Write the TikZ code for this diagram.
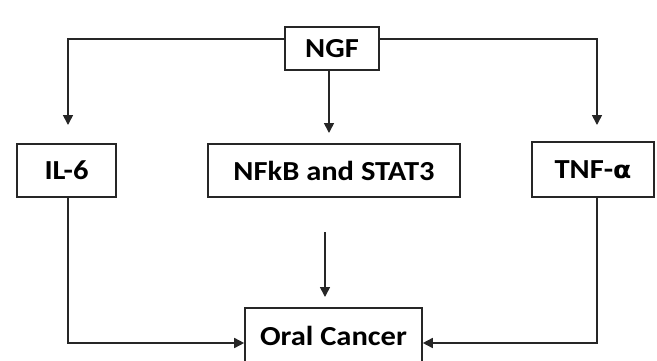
\documentclass[tikz,border=0pt]{standalone}
\usepackage{fontspec}
\setmainfont{Carlito}
\newfontfamily\greekfont{DejaVu Sans}
\usetikzlibrary{arrows.meta}
\newcommand\boxlbl[1]{\scalebox{1.11}[1]{#1}}
\begin{document}
\begin{tikzpicture}[x=1pt,y=-1pt,
  box/.style={draw=black!85,line width=1.6pt,inner sep=0pt,font=\bfseries\fontsize{27.5}{30}\selectfont,text=black},
  link/.style={draw=black!85,line width=1.6pt,-{Triangle[width=10pt,length=10pt]}}]
\useasboundingbox (0,0) rectangle (657,360);
\node[box,minimum width=94pt,minimum height=43pt] (ngf) at (332,48.5) {\boxlbl{NGF}};
\node[box,minimum width=99pt,minimum height=53pt] (il6) at (66.5,170.5) {\boxlbl{IL-6}};
\node[box,minimum width=252pt,minimum height=53pt] (nfkb) at (334,170.5) {\boxlbl{NFkB and STAT3}};
\node[box,minimum width=122pt,minimum height=55pt] (tnf) at (593,169.5) {\boxlbl{TNF-{\greekfont\bfseries\fontsize{24}{28}\selectfont α}}};
\node[box,minimum width=177pt,minimum height=56pt] (oral) at (333.5,336) {\boxlbl{Oral Cancer}};
\coordinate (lt) at (68,125);
\coordinate (rt) at (597,125);
\coordinate (mt) at (329,133);
\coordinate (m2s) at (325,232);
\coordinate (m2e) at (325,297);
\draw[link] (ngf.west |- 0,39) -| (lt);
\draw[link] (ngf.east |- 0,39) -| (rt);
\draw[link] (ngf.south -| mt) -- (mt);
\draw[link] (m2s) -- (m2e);
\draw[link] (il6.south -| lt) |- (oral.west |- 0,343);
\draw[link] (tnf.south -| rt) |- (oral.east |- 0,343);
\end{tikzpicture}
\end{document}
